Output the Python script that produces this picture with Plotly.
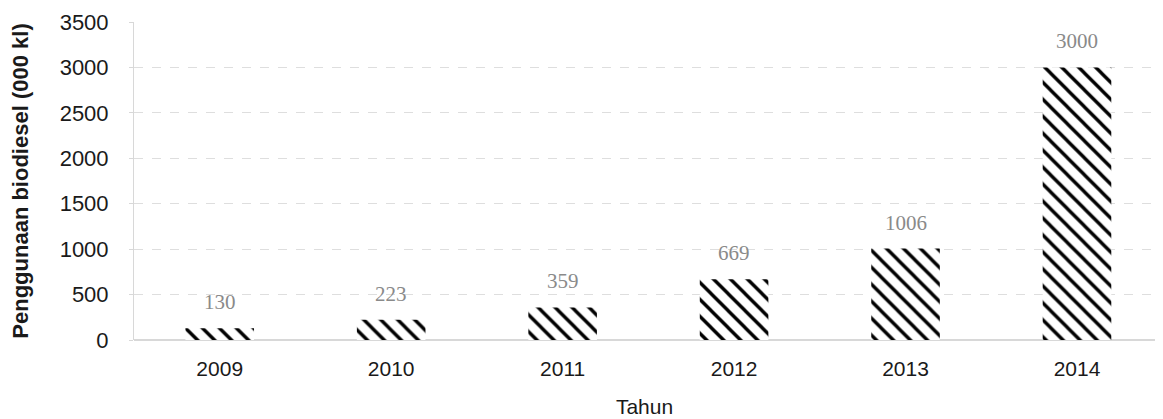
import plotly.graph_objects as go

years = ["2009", "2010", "2011", "2012", "2013", "2014"]
values = [130, 223, 359, 669, 1006, 3000]
labels = ["130", "223", "359", "669", "1006", "3000"]
y_ticks = [0, 500, 1000, 1500, 2000, 2500, 3000, 3500]

fig = go.Figure()
fig.add_trace(go.Bar(
    x=years, y=values,
    marker=dict(
        color="white",
        line=dict(width=0),
        pattern=dict(shape="\\", fgcolor="black", bgcolor="white", fgopacity=1,
                     size=12, solidity=0.28),
    ),
))

for i, (v, lab) in enumerate(zip(values, labels)):
    fig.add_annotation(
        x=i, y=v, text=lab, showarrow=False,
        xref="x", yref="y",
        yanchor="bottom", yshift=12,
        font=dict(family="Liberation Serif", size=21, color="#8a8a8a"),
    )

fig.update_layout(
    width=1147, height=411,
    margin=dict(l=126, r=0, t=14, b=79),
    paper_bgcolor="white", plot_bgcolor="white",
    bargap=0.6,
    showlegend=False,
    font=dict(family="Liberation Sans", color="#1a1a1a"),
)
fig.update_xaxes(
    type="category",
    range=[-0.5, 5.455],
    title=dict(text="Tahun", font=dict(size=21, color="#1a1a1a"), standoff=20),
    tickfont=dict(size=21, color="#1a1a1a"),
    showgrid=False, showline=False, ticks="", ticklabelstandoff=14,
)
fig.update_yaxes(
    range=[0, 3500], tickvals=y_ticks,
    title=dict(text="<b>Penggunaan biodiesel (000 kl)</b>", font=dict(size=22, color="#1a1a1a"), standoff=27),
    tickfont=dict(size=22, color="#1a1a1a"),
    showgrid=True, gridcolor="#dedede", griddash="dash", gridwidth=1,
    showline=True, linecolor="#d8d8d8", zeroline=True, zerolinecolor="#d8d8d8",
    ticks="outside", ticklen=4, tickcolor="#d8d8d8", ticklabelstandoff=16,
)

fig.write_html("out.html")
